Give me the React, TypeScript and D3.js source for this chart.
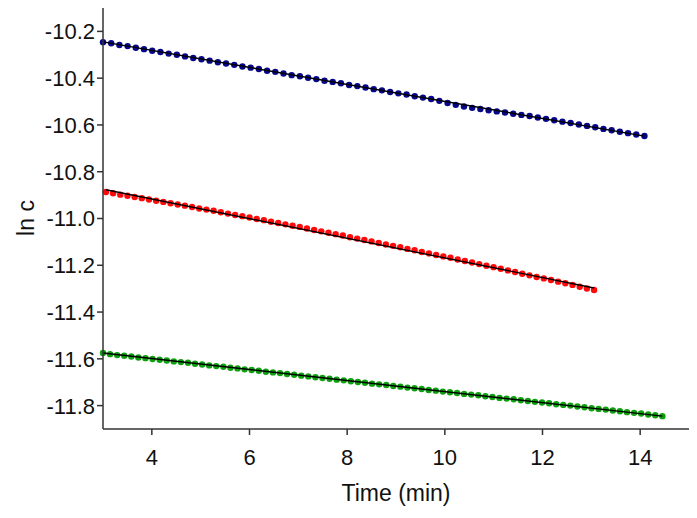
import React, { useEffect, useRef } from "react";
import * as d3 from "d3";

// sampling of each run (min)
const blueStart = 3.0;
const blueStep = 0.168;
const redStart = 3.06;
const redStep = 0.147;
const greenStart = 3.0;
const greenStep = 0.145;

const blueValues = [
  -10.246, -10.251, -10.258, -10.263, -10.27, -10.276, -10.283, -10.288, -10.295, -10.3,
  -10.307, -10.314, -10.319, -10.325, -10.332, -10.337, -10.343, -10.35, -10.355, -10.361,
  -10.368, -10.373, -10.38, -10.387, -10.392, -10.398, -10.404, -10.411, -10.416, -10.422,
  -10.429, -10.434, -10.44, -10.447, -10.452, -10.459, -10.465, -10.47, -10.477, -10.483,
  -10.489, -10.497, -10.506, -10.514, -10.521, -10.527, -10.532, -10.537, -10.542, -10.547,
  -10.552, -10.557, -10.562, -10.568, -10.574, -10.58, -10.586, -10.592, -10.598, -10.604,
  -10.61, -10.617, -10.623, -10.629, -10.635, -10.641, -10.647,
];

const redValues = [
  -10.887, -10.892, -10.898, -10.903, -10.908, -10.913, -10.919, -10.924, -10.929, -10.935,
  -10.94, -10.945, -10.951, -10.957, -10.962, -10.967, -10.973, -10.979, -10.985, -10.99,
  -10.996, -11.002, -11.007, -11.014, -11.019, -11.025, -11.031, -11.036, -11.043, -11.049,
  -11.055, -11.061, -11.067, -11.073, -11.08, -11.086, -11.092, -11.098, -11.105, -11.111,
  -11.117, -11.123, -11.13, -11.136, -11.143, -11.149, -11.156, -11.162, -11.168, -11.175,
  -11.182, -11.188, -11.195, -11.202, -11.208, -11.215, -11.222, -11.229, -11.236, -11.243,
  -11.25, -11.256, -11.263, -11.27, -11.277, -11.284, -11.292, -11.299, -11.306,
];

const greenValues = [
  -11.575, -11.58, -11.584, -11.587, -11.59, -11.594, -11.597, -11.601, -11.604, -11.607,
  -11.611, -11.614, -11.617, -11.621, -11.624, -11.628, -11.631, -11.634, -11.638, -11.641,
  -11.645, -11.648, -11.651, -11.655, -11.658, -11.661, -11.665, -11.668, -11.672, -11.675,
  -11.679, -11.682, -11.685, -11.689, -11.692, -11.696, -11.699, -11.702, -11.706, -11.709,
  -11.712, -11.716, -11.719, -11.723, -11.726, -11.729, -11.733, -11.736, -11.74, -11.743,
  -11.746, -11.75, -11.753, -11.756, -11.76, -11.763, -11.767, -11.77, -11.773, -11.777,
  -11.78, -11.784, -11.787, -11.79, -11.794, -11.797, -11.8, -11.804, -11.807, -11.811,
  -11.814, -11.817, -11.821, -11.824, -11.828, -11.831, -11.834, -11.838, -11.841, -11.845,
];

// linear fits: [start, end] values over each run
const blueFit = [-10.245, -10.648];
const redFit = [-10.877, -11.297];
const greenFit = [-11.575, -11.845];

const xTicks = [4, 6, 8, 10, 12, 14];
const yTicks = [-10.2, -10.4, -10.6, -10.8, -11.0, -11.2, -11.4, -11.6, -11.8];

const series = [
  { start: blueStart, step: blueStep, values: blueValues, fit: blueFit, color: "#06068a" },
  { start: redStart, step: redStep, values: redValues, fit: redFit, color: "#ff0a0a" },
  { start: greenStart, step: greenStep, values: greenValues, fit: greenFit, color: "#0ea00e" },
];

const App = () => {
  const ref = useRef<SVGSVGElement>(null);

  useEffect(() => {
    const svg = d3.select(ref.current);
    svg.selectAll("*").remove();

    const left = 103, right = 689, top = 8, bottom = 429;
    const x = d3.scaleLinear().domain([3, 15]).range([left, right]);
    const y = d3.scaleLinear().domain([-10.1, -11.9]).range([top, bottom]);
    const font = "'Liberation Sans', Arial, sans-serif";
    const axisColor = "#333";

    // points
    series.forEach(s => {
      const pts = s.values.map((v, i) => [s.start + i * s.step, v]);
      svg.append("g")
        .selectAll("circle")
        .data(pts)
        .enter()
        .append("circle")
        .attr("cx", d => x(d[0]))
        .attr("cy", d => y(d[1]))
        .attr("r", 3.2)
        .attr("fill", s.color);
    });

    // fit lines on top
    series.forEach(s => {
      const t1 = s.start + (s.values.length - 1) * s.step;
      svg.append("line")
        .attr("x1", x(s.start))
        .attr("y1", y(s.fit[0]))
        .attr("x2", x(t1))
        .attr("y2", y(s.fit[1]))
        .attr("stroke", "#000")
        .attr("stroke-width", 1.4);
    });

    // axes
    svg.append("line")
      .attr("x1", left).attr("x2", left).attr("y1", top).attr("y2", bottom)
      .attr("stroke", axisColor).attr("stroke-width", 1.5);
    svg.append("line")
      .attr("x1", left).attr("x2", right).attr("y1", bottom).attr("y2", bottom)
      .attr("stroke", axisColor).attr("stroke-width", 1.5);

    const yt = svg.append("g").selectAll("g").data(yTicks).enter().append("g");
    yt.append("line")
      .attr("x1", left - 6).attr("x2", left).attr("y1", d => y(d)).attr("y2", d => y(d))
      .attr("stroke", axisColor).attr("stroke-width", 1.5);
    yt.append("text")
      .attr("x", left - 8).attr("y", d => y(d)).attr("dy", "0.36em")
      .attr("text-anchor", "end")
      .attr("font-family", font).attr("font-size", 22).attr("fill", "#111")
      .text(d => d3.format(".1f")(d).replace("−", "-"));

    const xt = svg.append("g").selectAll("g").data(xTicks).enter().append("g");
    xt.append("line")
      .attr("x1", d => x(d)).attr("x2", d => x(d)).attr("y1", bottom).attr("y2", bottom + 6)
      .attr("stroke", axisColor).attr("stroke-width", 1.5);
    xt.append("text")
      .attr("x", d => x(d)).attr("y", 465)
      .attr("text-anchor", "middle")
      .attr("font-family", font).attr("font-size", 22).attr("fill", "#111")
      .text(d => d);

    svg.append("text")
      .attr("x", 396).attr("y", 501)
      .attr("text-anchor", "middle")
      .attr("font-family", font).attr("font-size", 23).attr("fill", "#111")
      .text("Time (min)");

    svg.append("text")
      .attr("transform", "translate(34,218) rotate(-90)")
      .attr("text-anchor", "middle")
      .attr("font-family", font).attr("font-size", 23).attr("fill", "#111")
      .text("ln c");
  }, []);

  return (
    <svg
      ref={ref}
      width={697}
      height={518}
      style={{ position: "absolute", left: 0, top: 0, background: "#fff" }}
    />
  );
};

export default App;
